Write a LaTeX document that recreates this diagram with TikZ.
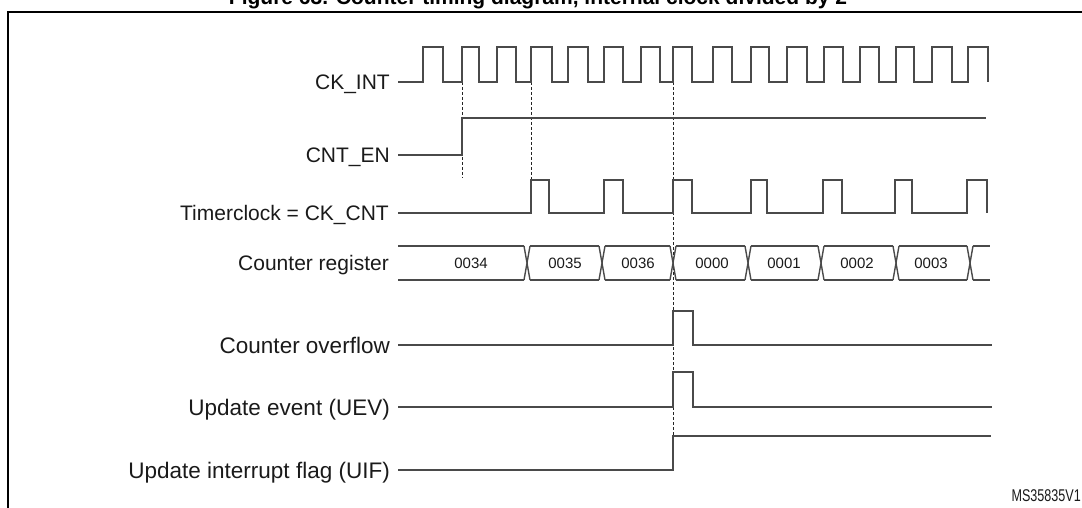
\documentclass[tikz,border=0pt]{standalone}
\usepackage{fontspec}
\setmainfont{Liberation Sans}
\definecolor{sigcol}{HTML}{4A4A4A}
\definecolor{txtcol}{HTML}{1A1A1A}
\tikzset{
  sig/.style={draw=sigcol, line width=1.4pt, line join=miter},
  guide/.style={draw=black!85, line width=0.9pt, dash pattern=on 3pt off 2pt},
  lbl/.style={anchor=base east, font=\fontsize{21}{25}\selectfont, text=txtcol, inner sep=0pt},
  lblbig/.style={lbl, font=\fontsize{22.5}{27}\selectfont},
  val/.style={anchor=base, font=\fontsize{15}{18}\selectfont, text=txtcol, inner sep=0pt},
  frame/.style={draw=black, line width=2pt},
}
\begin{document}
\begin{tikzpicture}[x=1pt,y=-1pt]
\useasboundingbox (0,0) rectangle (1082,508);
% title (clipped at the top, as in the reference)
\node[anchor=base, font=\bfseries\fontsize{21}{25}\selectfont, inner sep=0pt] (title) at (538,5)
  {Figure 63. Counter timing diagram, internal clock divided by 2};
% frame
\draw[frame] (8,12.5) rectangle (1100,530);

% labels
\node[lbl] (lck)  at (390,89.5)  {CK\_INT};
\node[lbl] (len)  at (390,162.5) {CNT\_EN};
\node[lbl] (ltc)  at (389,220.5) {Timerclock = CK\_CNT};
\node[lbl] (lreg) at (389,270.5) {Counter register};
\node[lblbig] (lov)  at (390,353) {Counter overflow};
\node[lblbig] (luev) at (390,415) {Update event (UEV)};
\node[lblbig] (luif) at (390,478) {Update interrupt flag (UIF)};
\node[anchor=base east, font=\fontsize{17}{20}\selectfont, xscale=0.74, text=txtcol, inner sep=0pt] (ms) at (1081,501) {MS35835V1};

% guide lines (dashed)
\draw[guide] (462,82) -- (462,178);
\draw[guide] (531,82) -- (531,213);
\draw[guide] (673,82) -- (673,470);

% CK_INT
\coordinate (ck0) at (398,82);
\draw[sig] (ck0)
  foreach \r/\f in {423/443,462/479,497/516,531/552,568/588,604/623,641/660,673/692,
                    713/732,751/769,787/807,824/843,860/879,896/914,932/952,968/988}
  { -- (\r,82) -- (\r,47) -- (\f,47) -- (\f,82) };

% CNT_EN
\coordinate (en0) at (398,155);
\draw[sig] (en0) -- (462,155) -- (462,118) -- (986,118);

% Timerclock
\coordinate (tc0) at (398,213);
\draw[sig] (tc0)
  foreach \r/\f in {531/549,604/623,673/692,751/767,823/842,895/912,967/987}
  { -- (\r,213) -- (\r,180) -- (\f,180) -- (\f,213) };

% Counter register
\coordinate (rg0) at (398,246);
\draw[sig] (rg0) -- (524,246) (398,280) -- (524,280);
\foreach \a/\b in {527/602,602/673,673/748,748/821,821/896,896/970}{
  \draw[sig] (\a+3,246) -- (\b-3,246) (\a+3,280) -- (\b-3,280);
}
\foreach \c in {527,602,673,748,821,896,970}{
  \draw[sig] (\c-3,246) -- (\c+3,280) (\c-3,280) -- (\c+3,246);
}
\draw[sig] (973,246) -- (990,246) (973,280) -- (990,280);
\node[val] (v34) at (471,268.5) {0034};
\node[val] (v35) at (565,268.5) {0035};
\node[val] (v36) at (638,268.5) {0036};
\node[val] (v00) at (712,268.5) {0000};
\node[val] (v01) at (784,268.5) {0001};
\node[val] (v02) at (857,268.5) {0002};
\node[val] (v03) at (931,268.5) {0003};

% Counter overflow
\coordinate (ov0) at (398,345);
\draw[sig] (ov0) -- (673,345) -- (673,311) -- (693,311) -- (693,345) -- (992,345);

% Update event
\coordinate (ue0) at (398,407);
\draw[sig] (ue0) -- (673,407) -- (673,372) -- (693,372) -- (693,407) -- (992,407);

% Update interrupt flag
\coordinate (uf0) at (398,470);
\draw[sig] (uf0) -- (673,470) -- (673,436) -- (991,436);
\end{tikzpicture}
\end{document}
